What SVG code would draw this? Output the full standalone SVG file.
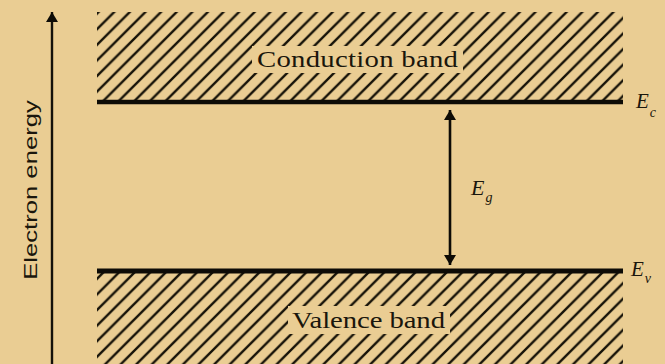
<svg xmlns="http://www.w3.org/2000/svg" width="665" height="364" viewBox="0 0 665 364">
  <style>
    .hatch-line { stroke: #161208; stroke-width: 2.4; stroke-linecap: round; fill: none; }
    .level { stroke: #0d0b06; stroke-linecap: butt; fill: none; }
    .axis { stroke: #14110a; stroke-width: 2.4; fill: none; }
    .band-label { font-family: "Liberation Serif", "Times New Roman", serif; font-size: 23px; fill: #1a160c; }
    .sym { font-family: "Liberation Serif", "Times New Roman", serif; font-style: italic; fill: #1a160c; }
    .axis-label { font-family: "Liberation Sans", Arial, sans-serif; font-size: 19px; fill: #1a160c; }
  </style>
  <defs>
    <pattern id="hatch" patternUnits="userSpaceOnUse" x="1.4" y="0" width="15.6" height="15.6">
      <path class="hatch-line" d="M-2,2 L2,-2 M0,15.6 L15.6,0 M13.6,17.6 L17.6,13.6"/>
    </pattern>
    <mask id="cbMask" maskUnits="userSpaceOnUse" x="0" y="0" width="665" height="364">
      <rect x="0" y="0" width="665" height="364" fill="#fff"/>
      <rect x="252" y="46" width="211" height="27" fill="#000"/>
    </mask>
    <mask id="vbMask" maskUnits="userSpaceOnUse" x="0" y="0" width="665" height="364">
      <rect x="0" y="0" width="665" height="364" fill="#fff"/>
      <rect x="288" y="306" width="162" height="28" fill="#000"/>
    </mask>
    <marker id="arrowHead" viewBox="0 0 10 16" refX="10" refY="8" markerWidth="10" markerHeight="16" markerUnits="userSpaceOnUse" orient="auto-start-reverse">
      <path d="M0,2 L10,8 L0,14 Z" fill="#0d0b06"/>
    </marker>
  </defs>

  <rect x="0" y="0" width="665" height="364" fill="#eacd93"/>

  <g id="conduction-band">
    <rect x="97" y="12" width="526" height="88" fill="url(#hatch)" mask="url(#cbMask)"/>
    <text class="band-label" transform="translate(257,67) scale(1.25,1)" x="0" y="0" textLength="160.8" lengthAdjust="spacing">Conduction band</text>
  </g>

  <g id="valence-band">
    <rect x="97" y="273" width="526" height="91" fill="url(#hatch)" mask="url(#vbMask)"/>
    <text class="band-label" transform="translate(292,328) scale(1.25,1)" x="0" y="0" textLength="122.4" lengthAdjust="spacing">Valence band</text>
  </g>

  <g id="Ec-level">
    <line class="level" x1="97" y1="102" x2="623" y2="102" stroke-width="4.5"/>
    <text class="sym" x="636" y="108" font-size="21">E<tspan font-size="14" dx="1" dy="9">c</tspan></text>
  </g>

  <g id="Ev-level">
    <line class="level" x1="97" y1="271" x2="623" y2="271" stroke-width="5"/>
    <text class="sym" x="631" y="276" font-size="21">E<tspan font-size="14" dx="1" dy="7">v</tspan></text>
  </g>

  <g id="energy-axis">
    <text class="axis-label" transform="translate(37,190) rotate(-90) scale(1.35,1)" x="0" y="0" text-anchor="middle" textLength="133" lengthAdjust="spacing">Electron energy</text>
  </g>

  <g id="gap-label">
    <text class="sym" x="471" y="195" font-size="22">E<tspan font-size="14" dx="1" dy="7">g</tspan></text>
  </g>

  <g id="connectors">
    <line class="axis" x1="52" y1="364" x2="52" y2="12" marker-end="url(#arrowHead)"/>
    <line class="level" x1="450" y1="110" x2="450" y2="265" stroke-width="2.6" marker-start="url(#arrowHead)" marker-end="url(#arrowHead)"/>
  </g>
</svg>
